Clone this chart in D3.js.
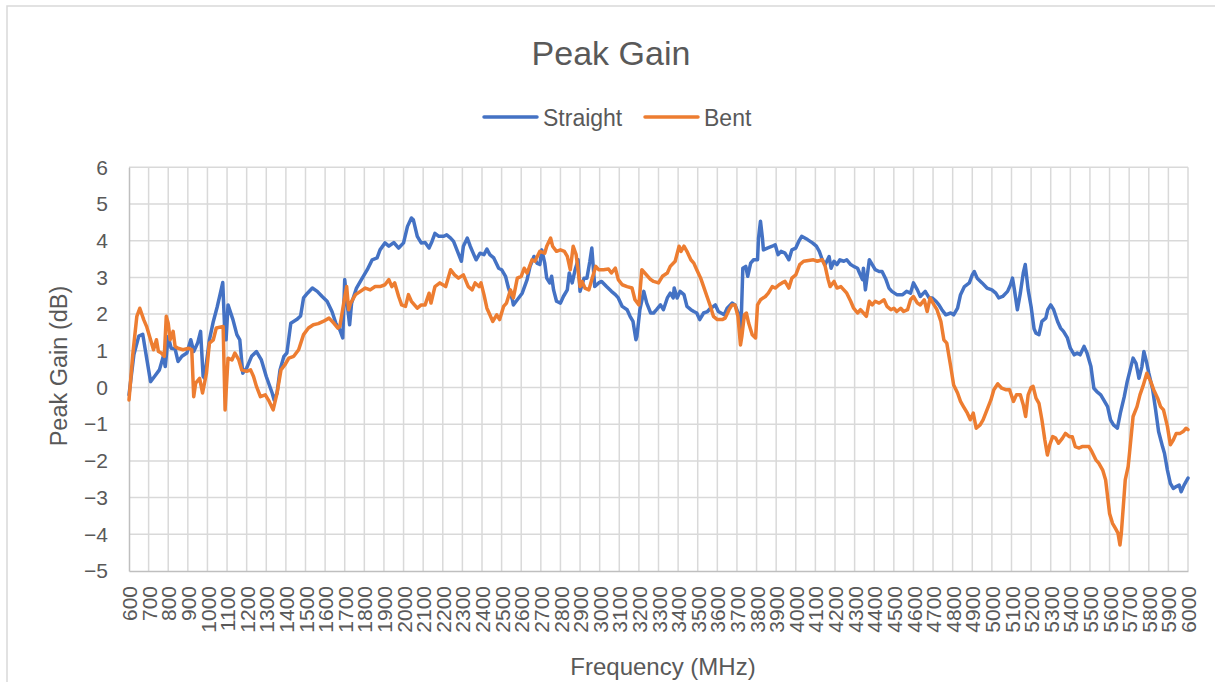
<!DOCTYPE html>
<html>
<head>
<meta charset="utf-8">
<script src="https://cdn.jsdelivr.net/npm/d3@7"></script>
<style>
  body { margin: 0; background: #fff; }
  svg text { font-family: "Liberation Sans", Arial, sans-serif; fill: #595959; }
</style>
</head>
<body>
<svg id="chart" width="1215" height="682"></svg>
<script>
// ─── Data ───────────────────────────────────────────────────────────────────
const xTicks = d3.range(600, 6001, 100);   // MHz, category labels
const yTicks = d3.range(-5, 7, 1);         // dB

const straightFreq = [600,625,650,670,690,710,730,755,775,785,800,815,835,850,870,895,915,930,950,965,978,985,1010,1030,1050,1065,1078,1090,1095,1105,1130,1150,1165,1180,1200,1225,1250,1275,1300,1330,1340,1355,1370,1390,1405,1425,1455,1475,1490,1510,1535,1560,1585,1610,1635,1655,1675,1690,1700,1710,1725,1735,1760,1785,1815,1840,1865,1880,1905,1925,1950,1975,2000,2020,2040,2050,2070,2090,2110,2130,2145,2160,2180,2205,2220,2240,2255,2275,2295,2305,2325,2340,2355,2370,2390,2410,2425,2440,2460,2485,2500,2520,2535,2555,2560,2580,2605,2630,2645,2665,2680,2695,2705,2720,2730,2745,2755,2765,2780,2800,2815,2835,2845,2860,2875,2890,2900,2920,2935,2950,2960,2975,2995,3010,3035,3060,3080,3095,3115,3140,3155,3170,3185,3190,3205,3225,3240,3260,3275,3290,3310,3325,3345,3360,3375,3380,3395,3410,3430,3445,3465,3480,3495,3510,3530,3550,3565,3580,3590,3605,3635,3650,3675,3690,3710,3720,3730,3745,3755,3770,3785,3805,3810,3820,3830,3835,3855,3880,3895,3910,3925,3945,3965,3980,4000,4015,4030,4060,4085,4105,4120,4135,4150,4170,4180,4195,4210,4225,4245,4260,4280,4295,4315,4325,4340,4345,4355,4375,4390,4405,4425,4440,4460,4475,4490,4515,4545,4565,4585,4600,4620,4635,4660,4680,4695,4715,4730,4745,4765,4790,4805,4825,4840,4860,4885,4900,4910,4925,4950,4975,5000,5020,5035,5055,5080,5095,5105,5115,5130,5145,5160,5170,5185,5200,5215,5225,5240,5255,5275,5285,5300,5315,5335,5350,5365,5385,5400,5420,5435,5450,5470,5485,5505,5520,5535,5555,5570,5590,5605,5620,5640,5655,5675,5690,5705,5720,5735,5750,5765,5775,5790,5800,5820,5835,5850,5870,5880,5895,5910,5925,5940,5955,5965,5980,6000];
const straightGain = [-0.2,0.9,1.4,1.45,0.8,0.16,0.3,0.48,0.85,0.57,1.39,1.07,1.05,0.71,0.85,0.94,1.3,0.98,1.21,1.53,0.3,0.25,1.3,1.8,2.2,2.55,2.86,1.3,1.3,2.25,1.85,1.44,1.3,0.39,0.53,0.85,0.98,0.75,0.3,-0.15,-0.34,-0.15,0.48,0.85,0.94,1.75,1.85,1.95,2.44,2.57,2.71,2.62,2.48,2.35,2.07,1.75,1.57,1.35,2.94,2.39,1.71,2.3,2.71,2.94,3.21,3.48,3.53,3.75,3.94,3.85,3.95,3.8,3.94,4.39,4.62,4.57,4.12,3.94,3.95,3.8,3.98,4.2,4.12,4.12,4.16,4.07,3.98,3.71,3.44,3.85,4.07,3.85,3.66,3.48,3.66,3.62,3.77,3.62,3.53,3.25,3.21,3.03,2.71,2.39,2.25,2.39,2.57,2.94,3.3,3.57,3.39,3.35,3.75,3.39,2.98,2.85,3.03,2.66,2.35,2.3,2.48,2.66,3.12,2.85,3.21,3.48,2.62,2.98,2.98,3.44,3.8,2.75,2.85,2.89,2.75,2.62,2.53,2.44,2.21,2.12,1.94,1.8,1.3,1.39,2.12,2.62,2.3,2.03,2.03,2.12,2.25,2.12,2.44,2.57,2.44,2.71,2.44,2.62,2.53,2.21,2.12,2.07,2.03,1.85,2.03,2.07,2.16,2.21,2.25,2.07,1.98,2.16,2.3,2.25,1.98,1.53,3.25,3.3,3.03,3.39,3.48,3.48,4.07,4.53,4.07,3.75,3.8,3.85,3.89,3.62,3.71,3.66,3.48,3.75,3.8,3.98,4.12,4.03,3.94,3.85,3.71,3.48,3.35,3.57,3.25,3.44,3.35,3.48,3.44,3.48,3.35,3.3,3.25,3.12,2.94,3.25,2.66,3.48,3.35,3.21,3.16,3.16,2.94,2.71,2.62,2.53,2.53,2.62,2.57,2.85,2.66,2.48,2.62,2.44,2.44,2.35,2.25,2.12,1.98,2.03,1.98,2.16,2.53,2.75,2.85,3.07,3.16,2.98,2.85,2.71,2.66,2.57,2.44,2.48,2.62,2.8,2.98,2.66,2.12,2.57,3.12,3.35,2.66,2.2,1.6,1.48,1.44,1.8,1.89,2.12,2.25,2.12,1.8,1.62,1.53,1.35,1.07,0.89,0.94,0.89,1.12,0.94,0.57,-0.02,-0.11,-0.2,-0.34,-0.52,-0.88,-1.02,-1.11,-0.7,-0.25,0.16,0.48,0.8,0.66,0.25,0.57,0.98,0.66,0.39,-0.06,-0.61,-1.2,-1.61,-1.79,-2.25,-2.61,-2.75,-2.7,-2.66,-2.84,-2.66,-2.47];

const bentFreq = [600,620,640,655,675,690,705,725,740,750,765,780,790,800,810,825,835,850,875,905,920,930,940,960,975,995,1010,1030,1045,1075,1080,1090,1105,1125,1140,1160,1175,1200,1220,1235,1250,1270,1295,1315,1335,1355,1375,1395,1415,1440,1465,1490,1515,1540,1565,1590,1620,1645,1665,1675,1695,1710,1720,1730,1755,1780,1805,1830,1855,1880,1905,1925,1940,1955,1975,1990,2010,2025,2040,2070,2090,2110,2130,2140,2160,2185,2215,2240,2260,2280,2305,2330,2350,2365,2385,2395,2410,2425,2440,2455,2475,2490,2510,2525,2545,2560,2580,2600,2615,2630,2655,2670,2695,2720,2730,2750,2760,2780,2800,2820,2835,2850,2865,2880,2900,2910,2925,2945,2960,2980,2995,3020,3045,3060,3080,3095,3115,3140,3165,3180,3200,3215,3230,3260,3275,3300,3320,3345,3360,3385,3405,3415,3430,3445,3465,3480,3495,3515,3530,3550,3565,3580,3600,3625,3640,3660,3675,3690,3705,3718,3725,3738,3748,3760,3778,3795,3805,3820,3845,3860,3880,3895,3915,3930,3945,3965,3980,4000,4020,4040,4065,4090,4110,4135,4150,4165,4175,4195,4210,4230,4245,4260,4280,4295,4315,4330,4345,4360,4375,4390,4405,4425,4450,4465,4485,4500,4515,4535,4550,4570,4585,4600,4620,4635,4655,4670,4685,4705,4720,4740,4755,4770,4790,4805,4825,4840,4855,4875,4890,4905,4920,4940,4955,4975,4995,5010,5030,5050,5070,5090,5110,5125,5145,5160,5172,5185,5200,5210,5225,5240,5255,5270,5283,5295,5310,5325,5340,5360,5375,5395,5410,5425,5445,5460,5480,5495,5510,5530,5545,5565,5580,5590,5600,5615,5630,5643,5653,5660,5670,5680,5695,5705,5720,5740,5755,5770,5790,5810,5825,5845,5860,5875,5895,5910,5925,5940,5960,5975,5990,6000];
const bentGain = [-0.34,0.94,1.94,2.16,1.85,1.66,1.39,1.03,1.3,0.98,0.94,0.85,1.94,1.75,1.3,1.53,1.12,1.07,1.03,1.07,1.03,-0.25,0.12,0.25,-0.15,0.39,1.21,1.3,1.62,1.66,1.66,-0.61,0.8,0.75,0.94,0.75,0.48,0.44,0.48,0.3,0.03,-0.25,-0.2,-0.38,-0.61,-0.15,0.48,0.62,0.8,0.85,1.03,1.44,1.62,1.71,1.74,1.8,1.89,1.75,1.62,1.66,2.3,2.75,2.12,2.3,2.53,2.62,2.71,2.66,2.75,2.75,2.8,2.94,2.75,2.85,2.48,2.25,2.21,2.53,2.35,2.16,2.25,2.25,2.57,2.3,2.75,2.85,2.75,3.21,3.07,2.98,3.07,2.75,2.66,2.85,2.75,2.85,2.53,2.16,1.98,1.8,1.98,1.85,2.21,2.3,2.66,2.44,2.98,3.03,3.25,3.12,3.48,3.44,3.71,3.66,3.85,4.07,3.85,3.71,3.75,3.71,3.57,3.21,3.85,3.62,2.75,2.89,2.71,2.66,2.94,3.3,3.21,3.21,3.23,3.12,3.25,2.94,2.8,2.75,2.71,2.39,2.25,3.21,3.12,2.94,2.89,2.85,3.03,3.12,3.3,3.44,3.85,3.71,3.85,3.71,3.48,3.39,3.21,2.98,2.75,2.44,2.21,1.94,1.85,1.85,1.89,2.12,2.25,2.25,1.94,1.16,1.39,1.98,2.03,1.75,1.44,1.35,2.25,2.39,2.48,2.57,2.75,2.71,2.8,2.85,2.89,2.71,2.98,3.07,3.35,3.44,3.46,3.48,3.44,3.48,3.3,2.94,2.75,2.89,2.71,2.75,2.66,2.57,2.35,2.16,2.03,2.12,2.03,1.94,2.35,2.25,2.35,2.3,2.39,2.21,2.12,2.16,2.07,2.16,2.07,2.12,2.39,2.48,2.3,2.25,2.39,2.07,2.44,2.25,2.12,1.8,1.3,1.21,0.57,0.07,-0.15,-0.38,-0.52,-0.7,-0.88,-0.7,-1.11,-1.02,-0.88,-0.61,-0.34,-0.06,0.1,-0.02,-0.06,-0.06,-0.38,-0.2,-0.2,-0.47,-0.79,-0.2,0.0,0.03,-0.29,-0.43,-0.88,-1.43,-1.84,-1.56,-1.34,-1.38,-1.52,-1.38,-1.25,-1.34,-1.34,-1.61,-1.65,-1.61,-1.61,-1.61,-1.75,-1.97,-2.06,-2.25,-2.52,-2.97,-3.43,-3.7,-3.84,-3.97,-4.29,-3.97,-3.25,-2.52,-2.15,-1.61,-0.79,-0.52,-0.2,0.03,0.39,0.16,-0.06,-0.29,-0.52,-0.61,-1.06,-1.56,-1.43,-1.25,-1.25,-1.2,-1.11,-1.15];

const seriesNames  = ["Straight", "Bent"];
const seriesColors = ["#4472C4", "#ED7D31"];

// ─── Layout ────────────────────────────────────────────────────────────────
const plot = { left: 129, right: 1188, top: 167.3, bottom: 571 };

const svg = d3.select("#chart");

// chart-area border (runs off the right/bottom edge like the original)
svg.append("rect")
  .attr("x", 7).attr("y", 6)
  .attr("width", 1240).attr("height", 700)
  .attr("fill", "none")
  .attr("stroke", "#D9D9D9")
  .attr("stroke-width", 1.5);

const x = d3.scaleLinear().domain([600, 6000]).range([plot.left, plot.right]);
const y = d3.scaleLinear().domain([-5, 6]).range([plot.bottom, plot.top]);

// ─── Gridlines ──────────────────────────────────────────────────────────────
const grid = svg.append("g").attr("class", "grid");
grid.selectAll("line.v")
  .data(xTicks.slice(1))
  .join("line")
    .attr("class", "v")
    .attr("x1", d => x(d)).attr("x2", d => x(d))
    .attr("y1", plot.top).attr("y2", plot.bottom)
    .attr("stroke", "#D9D9D9").attr("stroke-width", 1.5);
grid.selectAll("line.h")
  .data(yTicks.slice(1))
  .join("line")
    .attr("class", "h")
    .attr("x1", plot.left).attr("x2", plot.right)
    .attr("y1", d => y(d)).attr("y2", d => y(d))
    .attr("stroke", "#D9D9D9").attr("stroke-width", 1.5);

// ─── Axes ───────────────────────────────────────────────────────────────────
const yAxis = svg.append("g")
  .attr("transform", `translate(${plot.left},0)`)
  .call(d3.axisLeft(y).tickValues(yTicks).tickSize(0).tickPadding(21).tickFormat(d3.format("d")));
yAxis.select(".domain").attr("stroke", "#BFBFBF").attr("stroke-width", 1.5);
yAxis.selectAll("text")
  .attr("font-size", "21px")
  .style("font-family", "'Liberation Sans', Arial, sans-serif")
  .attr("fill", "#595959");

const xAxis = svg.append("g")
  .attr("transform", `translate(0,${plot.bottom})`)
  .call(d3.axisBottom(x).tickValues(xTicks).tickSize(0).tickFormat(d3.format("d")));
xAxis.select(".domain").attr("stroke", "#BFBFBF").attr("stroke-width", 1.5);
xAxis.selectAll("text")
  .attr("font-size", "21px")
  .style("font-family", "'Liberation Sans', Arial, sans-serif")
  .attr("fill", "#595959")
  .attr("transform", "rotate(-90)")
  .attr("text-anchor", "end")
  .attr("x", -15)
  .attr("y", 0)
  .attr("dy", "0.36em");

// ─── Lines ──────────────────────────────────────────────────────────────────
const line = d3.line().x(d => x(d[0])).y(d => y(d[1]));
const seriesData = [
  d3.zip(straightFreq, straightGain),
  d3.zip(bentFreq, bentGain)
];
svg.append("g").selectAll("path")
  .data(seriesData)
  .join("path")
    .attr("d", line)
    .attr("fill", "none")
    .attr("stroke", (d, i) => seriesColors[i])
    .attr("stroke-width", 3.5)
    .attr("stroke-linejoin", "round")
    .attr("stroke-linecap", "round");

// ─── Titles ─────────────────────────────────────────────────────────────────
svg.append("text")
  .attr("x", 611).attr("y", 65)
  .attr("text-anchor", "middle")
  .attr("font-size", "34px")
  .text("Peak Gain");

svg.append("text")
  .attr("transform", "translate(59,366) rotate(-90)")
  .attr("text-anchor", "middle")
  .attr("dominant-baseline", "central")
  .attr("font-size", "23.5px")
  .text("Peak Gain (dB)");

svg.append("text")
  .attr("x", 663).attr("y", 666)
  .attr("text-anchor", "middle")
  .attr("dominant-baseline", "central")
  .attr("font-size", "24px")
  .text("Frequency (MHz)");

// ─── Legend ─────────────────────────────────────────────────────────────────
const legendX = [484, 645];
const legend = svg.append("g").selectAll("g")
  .data(seriesNames)
  .join("g")
    .attr("transform", (d, i) => `translate(${legendX[i]},117)`);
legend.append("line")
  .attr("x1", 0).attr("x2", 53)
  .attr("stroke", (d, i) => seriesColors[i])
  .attr("stroke-width", 3.5)
  .attr("stroke-linecap", "round");
legend.append("text")
  .attr("x", 59).attr("y", 8.5)
  .attr("font-size", "23px")
  .text(d => d);
</script>
</body>
</html>
